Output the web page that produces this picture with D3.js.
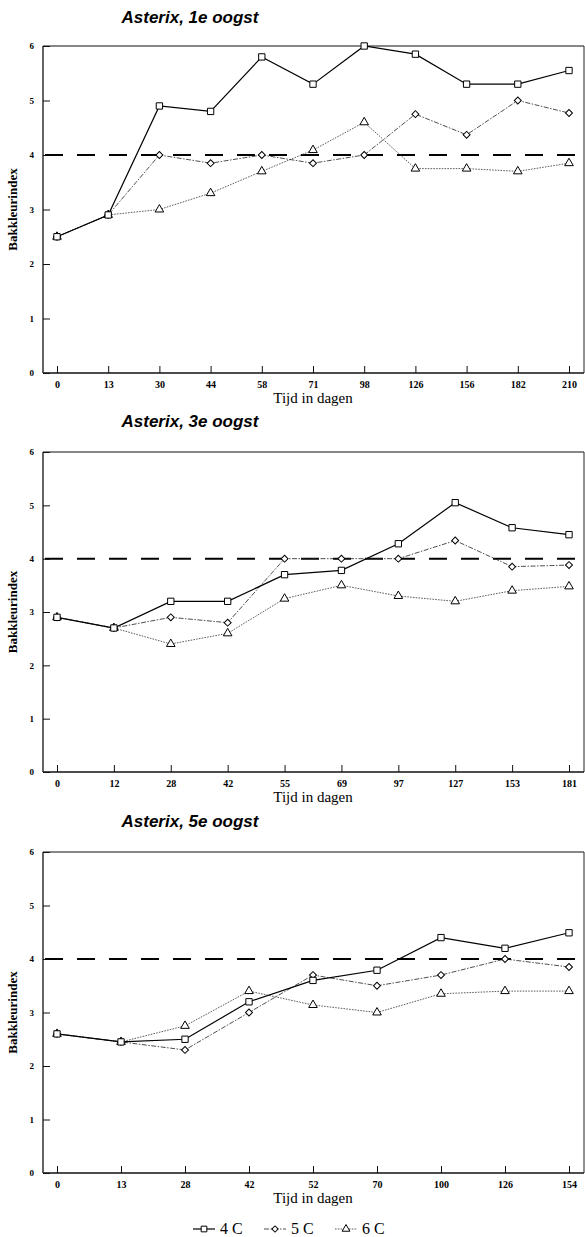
<!DOCTYPE html>
<html>
<head>
<meta charset="utf-8">
<script src="https://cdn.jsdelivr.net/npm/d3@7"></script>
<style>
  html, body { margin: 0; padding: 0; background: #fff; }
  svg { display: block; }
</style>
</head>
<body>
<script>
// Bakkleurindex of Asterix potatoes stored at 4, 5 and 6 C, three harvests.
const seriesNames = ["4 C", "5 C", "6 C"];
const yTicks = [0, 1, 2, 3, 4, 5, 6];
const thresholdValue = 4;

const titles = ["Asterix, 1e oogst", "Asterix, 3e oogst", "Asterix, 5e oogst"];

const oogst1Days = ["0", "13", "30", "44", "58", "71", "98", "126", "156", "182", "210"];
const oogst1_4C = [2.5, 2.9, 4.9, 4.8, 5.8, 5.3, 6.0, 5.85, 5.3, 5.3, 5.55];
const oogst1_5C = [2.5, 2.9, 4.0, 3.85, 4.0, 3.85, 4.0, 4.75, 4.37, 5.0, 4.77];
const oogst1_6C = [2.5, 2.9, 3.0, 3.3, 3.7, 4.09, 4.6, 3.75, 3.75, 3.7, 3.85];

const oogst3Days = ["0", "12", "28", "42", "55", "69", "97", "127", "153", "181"];
const oogst3_4C = [2.9, 2.7, 3.2, 3.2, 3.7, 3.78, 4.28, 5.05, 4.58, 4.45];
const oogst3_5C = [2.9, 2.7, 2.9, 2.8, 4.0, 4.0, 4.0, 4.34, 3.85, 3.88];
const oogst3_6C = [2.9, 2.7, 2.4, 2.6, 3.25, 3.5, 3.3, 3.2, 3.4, 3.48];

const oogst5Days = ["0", "13", "28", "42", "52", "70", "100", "126", "154"];
const oogst5_4C = [2.6, 2.45, 2.5, 3.2, 3.6, 3.79, 4.4, 4.2, 4.49];
const oogst5_5C = [2.6, 2.45, 2.3, 3.0, 3.7, 3.5, 3.7, 4.0, 3.85];
const oogst5_6C = [2.6, 2.45, 2.75, 3.4, 3.14, 3.0, 3.35, 3.4, 3.4];

const W = 585, H = 1237;
const left = 43, right = 584;
const serif = "'Liberation Serif', 'Times New Roman', serif";
const sans = "'Liberation Sans', Arial, sans-serif";

// line look and marker per temperature; the 5 C marker is a square turned 45 degrees
const styles = [
  { dash: null, width: 1.2, color: "#000", symbol: d3.symbolSquare, size: 40, rot: 0 },
  { dash: "5,1.5,1.5,1.5", width: 0.8, color: "#222", symbol: d3.symbolSquare, size: 24, rot: 45 },
  { dash: "1.6,1.2", width: 0.8, color: "#333", symbol: d3.symbolTriangle, size: 32, rot: 0 }
];

const panels = [
  { title: titles[0], days: oogst1Days, series: [oogst1_4C, oogst1_5C, oogst1_6C], top: 46, bottom: 373, titleY: 23 },
  { title: titles[1], days: oogst3Days, series: [oogst3_4C, oogst3_5C, oogst3_6C], top: 452, bottom: 772, titleY: 427 },
  { title: titles[2], days: oogst5Days, series: [oogst5_4C, oogst5_5C, oogst5_6C], top: 852, bottom: 1173, titleY: 827 }
];

const svg = d3.select("body").append("svg")
  .attr("width", W).attr("height", H)
  .attr("viewBox", `0 0 ${W} ${H}`);

panels.forEach(p => {
  const g = svg.append("g");
  const x = d3.scalePoint().domain(p.days).range([57, 569]);
  const y = d3.scaleLinear().domain([0, 6]).range([p.bottom, p.top]);

  // title
  g.append("text")
    .attr("x", 190).attr("y", p.titleY)
    .attr("text-anchor", "middle")
    .style("font-family", sans).style("font-weight", "bold").style("font-style", "italic")
    .style("font-size", "17px")
    .text(p.title);

  // frame
  g.append("line").attr("x1", left).attr("x2", right).attr("y1", p.top).attr("y2", p.top)
    .attr("stroke", "#111").attr("stroke-width", 1.1);
  g.append("line").attr("x1", right).attr("x2", right).attr("y1", p.top).attr("y2", p.bottom)
    .attr("stroke", "#222").attr("stroke-width", 1);
  g.append("line").attr("x1", left).attr("x2", left).attr("y1", p.top).attr("y2", p.bottom)
    .attr("stroke", "#111").attr("stroke-width", 1.3);
  g.append("line").attr("x1", left).attr("x2", right).attr("y1", p.bottom).attr("y2", p.bottom)
    .attr("stroke", "#111").attr("stroke-width", 1.5);

  // y axis with inward ticks
  const yAxis = g.append("g").attr("transform", `translate(${left},0)`)
    .call(d3.axisLeft(y).tickValues(yTicks).tickFormat(d3.format("d"))
      .tickSizeInner(-7).tickSizeOuter(0).tickPadding(9));
  yAxis.select(".domain").remove();
  yAxis.selectAll("line").attr("stroke", "#111").attr("stroke-width", 1);
  yAxis.selectAll("text")
    .style("font-family", serif).style("font-weight", "bold").style("font-size", "9px")
    .attr("fill", "#000");

  // x axis with inward ticks
  const xAxis = g.append("g").attr("transform", `translate(0,${p.bottom})`)
    .call(d3.axisBottom(x).tickSizeInner(-7).tickSizeOuter(0).tickPadding(8));
  xAxis.select(".domain").remove();
  xAxis.selectAll("line").attr("stroke", "#111").attr("stroke-width", 1);
  xAxis.selectAll("text")
    .style("font-family", serif).style("font-weight", "bold").style("font-size", "10px")
    .attr("fill", "#000");

  // axis titles
  g.append("text")
    .attr("x", 313).attr("y", p.bottom + 30)
    .attr("text-anchor", "middle")
    .style("font-family", serif).style("font-size", "15px")
    .text("Tijd in dagen");
  g.append("text")
    .attr("transform", `translate(17,${(p.top + p.bottom) / 2}) rotate(-90)`)
    .attr("text-anchor", "middle")
    .style("font-family", serif).style("font-weight", "bold").style("font-size", "13px")
    .text("Bakkleurindex");

  // reference line at index 4
  g.append("line")
    .attr("x1", left + 2).attr("x2", right)
    .attr("y1", y(thresholdValue)).attr("y2", y(thresholdValue))
    .attr("stroke", "#000").attr("stroke-width", 2)
    .attr("stroke-dasharray", "18,14");

  // series lines (drawn back to front) and markers
  const line = d3.line().x((d, i) => x(p.days[i])).y(d => y(d));
  [2, 1, 0].forEach(si => {
    const st = styles[si];
    g.append("path").datum(p.series[si])
      .attr("d", line)
      .attr("fill", "none")
      .attr("stroke", st.color).attr("stroke-width", st.width)
      .attr("stroke-dasharray", st.dash);
  });
  [2, 1, 0].forEach(si => {
    const st = styles[si];
    g.append("g").selectAll("path").data(p.series[si]).join("path")
      .attr("transform", (d, i) => `translate(${x(p.days[i])},${y(d)}) rotate(${st.rot})`)
      .attr("d", d3.symbol().type(st.symbol).size(st.size))
      .attr("fill", "#fff").attr("stroke", "#000").attr("stroke-width", 1);
  });
});

// legend
const legendItems = [
  { x: 193, text: seriesNames[0] },
  { x: 264, text: seriesNames[1] },
  { x: 335, text: seriesNames[2] }
];
const lg = svg.append("g").attr("transform", "translate(0,1229)");
legendItems.forEach((it, i) => {
  const st = styles[i];
  lg.append("line").attr("x1", it.x).attr("x2", it.x + 22).attr("y1", 0).attr("y2", 0)
    .attr("stroke", st.color).attr("stroke-width", st.width).attr("stroke-dasharray", st.dash);
  lg.append("path").attr("transform", `translate(${it.x + 11},0) rotate(${st.rot})`)
    .attr("d", d3.symbol().type(st.symbol).size(st.size * 0.8))
    .attr("fill", "#fff").attr("stroke", "#000").attr("stroke-width", 1);
  lg.append("text").attr("x", it.x + 27).attr("y", 5)
    .style("font-family", serif).style("font-size", "16px")
    .text(it.text);
});
</script>
</body>
</html>
